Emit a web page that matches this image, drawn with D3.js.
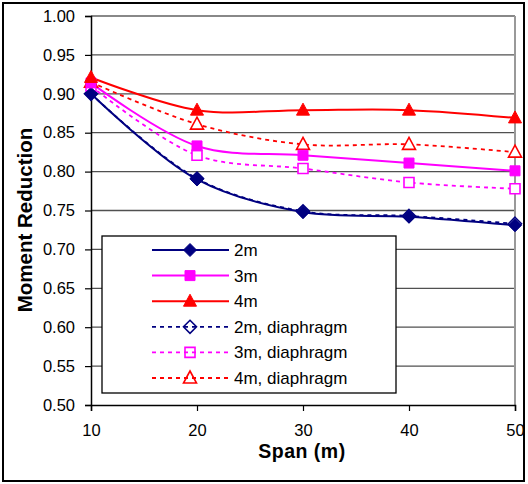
<!DOCTYPE html>
<html><head><meta charset="utf-8">
<script src="https://cdn.jsdelivr.net/npm/d3@7"></script>
<style>body{margin:0;background:#fff}svg{display:block;font-family:"Liberation Sans",Arial,sans-serif}</style>
</head><body>
<svg id="c" width="528" height="484"></svg>
<script>
const spans = [10, 20, 30, 40, 50];
const s2m   = [0.900, 0.790, 0.748, 0.742, 0.731];
const s3m   = [0.914, 0.833, 0.821, 0.811, 0.801];
const s4m   = [0.921, 0.879, 0.879, 0.879, 0.869];
const s2mD  = [0.900, 0.791, 0.749, 0.743, 0.733];
const s3mD  = [0.910, 0.821, 0.804, 0.786, 0.778];
const s4mD  = [0.915, 0.861, 0.835, 0.835, 0.825];
const seriesNames = ["2m", "3m", "4m", "2m, diaphragm", "3m, diaphragm", "4m, diaphragm"];
const yTicks = [0.50,0.55,0.60,0.65,0.70,0.75,0.80,0.85,0.90,0.95,1.00];
const xTicks = [10,20,30,40,50];

const series = [
  {name: seriesNames[0], vals: s2m,  color:"#000080", shape:"diamond",  filled:true,  dash:null},
  {name: seriesNames[1], vals: s3m,  color:"#FF00FF", shape:"square",   filled:true,  dash:null},
  {name: seriesNames[2], vals: s4m,  color:"#FF0000", shape:"triangle", filled:true,  dash:null},
  {name: seriesNames[3], vals: s2mD, color:"#000080", shape:"diamond",  filled:false, dash:"4,4"},
  {name: seriesNames[4], vals: s3mD, color:"#FF00FF", shape:"square",   filled:false, dash:"4,4"},
  {name: seriesNames[5], vals: s4mD, color:"#FF0000", shape:"triangle", filled:false, dash:"4,4"}
];

const svg = d3.select("#c");
const L = 91, R = 515, T = 16, B = 405;
const x = d3.scaleLinear().domain([10,50]).range([L,R]);
const y = d3.scaleLinear().domain([0.5,1.0]).range([B,T]);

// outer border
svg.append("rect").attr("x",3).attr("y",3).attr("width",521).attr("height",478)
  .attr("fill","#fff").attr("stroke","#000").attr("stroke-width",2);

// gridlines
svg.append("g").selectAll("line").data(yTicks.filter(d=>d>0.5)).join("line")
  .attr("x1",L).attr("x2",R).attr("y1",d=>y(d)).attr("y2",d=>y(d))
  .attr("stroke",d=>d===1.0?"#888":"#505050").attr("stroke-width",d=>d===1.0?2:1.3);
// right border of plot
svg.append("line").attr("x1",R).attr("x2",R).attr("y1",T).attr("y2",B)
  .attr("stroke","#999").attr("stroke-width",2);

// axes
const yAxis = svg.append("g").attr("transform",`translate(${L},0)`)
  .call(d3.axisLeft(y).tickValues(yTicks).tickFormat(d3.format(".2f")).tickSizeOuter(0).tickSize(6).tickPadding(10));
const xAxis = svg.append("g").attr("transform",`translate(0,${B})`)
  .call(d3.axisBottom(x).tickValues(xTicks).tickFormat(d3.format("d")).tickSizeOuter(0).tickSize(6).tickPadding(13));
[yAxis,xAxis].forEach(a=>{
  a.select(".domain").attr("stroke","#000").attr("stroke-width",1.5);
  a.selectAll(".tick line").attr("stroke","#000").attr("stroke-width",1.2);
  a.selectAll(".tick text").attr("fill","#000").style("font-size","16.5px").style("font-family","'Liberation Sans',Arial,sans-serif");
});

// axis titles
svg.append("text").attr("x",302).attr("y",458).attr("text-anchor","middle")
  .style("font-size","19.5px").style("font-weight","bold").style("letter-spacing","0.5px").text("Span (m)");
svg.append("text").attr("transform","translate(32,220) rotate(-90)").attr("text-anchor","middle")
  .style("font-size","20.5px").style("font-weight","bold").text("Moment Reduction");

function markerPath(shape){
  if(shape==="diamond") return "M0,-6.5L6.5,0L0,6.5L-6.5,0Z";
  if(shape==="square") return "M-5,-5H5V5H-5Z";
  return "M0,-7L6.5,5L-6.5,5Z";
}

const line = d3.line().x((d,i)=>x(spans[i])).y(d=>y(d)).curve(d3.curveCatmullRom.alpha(0.5));
const plot = svg.append("g");
const order = [3,4,5,0,1,2];
order.forEach(k=>{
  const s = series[k];
  plot.append("path").datum(s.vals).attr("d",line).attr("fill","none")
    .attr("stroke",s.color).attr("stroke-width",s.dash?1.8:2)
    .attr("stroke-dasharray",s.dash);
});
order.forEach(k=>{
  const s = series[k];
  plot.append("g").selectAll("path").data(s.vals).join("path")
    .attr("transform",(d,i)=>`translate(${x(spans[i])},${y(d)})`)
    .attr("d",markerPath(s.shape))
    .attr("fill",s.filled?s.color:"#fff")
    .attr("stroke",s.color).attr("stroke-width",s.filled?1:1.6);
});

// legend
const lg = svg.append("g");
lg.append("rect").attr("x",102).attr("y",236).attr("width",294).attr("height",157)
  .attr("fill","#fff").attr("stroke","#000").attr("stroke-width",1.3);
series.forEach((s,i)=>{
  const yy = 250 + i*25.6;
  lg.append("line").attr("x1",152).attr("x2",229).attr("y1",yy).attr("y2",yy)
    .attr("stroke",s.color).attr("stroke-width",s.dash?1.8:2).attr("stroke-dasharray",s.dash);
  lg.append("path").attr("transform",`translate(190,${yy})`).attr("d",markerPath(s.shape))
    .attr("fill",s.filled?s.color:"none").attr("stroke",s.color).attr("stroke-width",s.filled?1:1.6);
  lg.append("text").attr("x",234).attr("y",yy+6).style("font-size","17px").text(s.name);
});
</script>
</body></html>
